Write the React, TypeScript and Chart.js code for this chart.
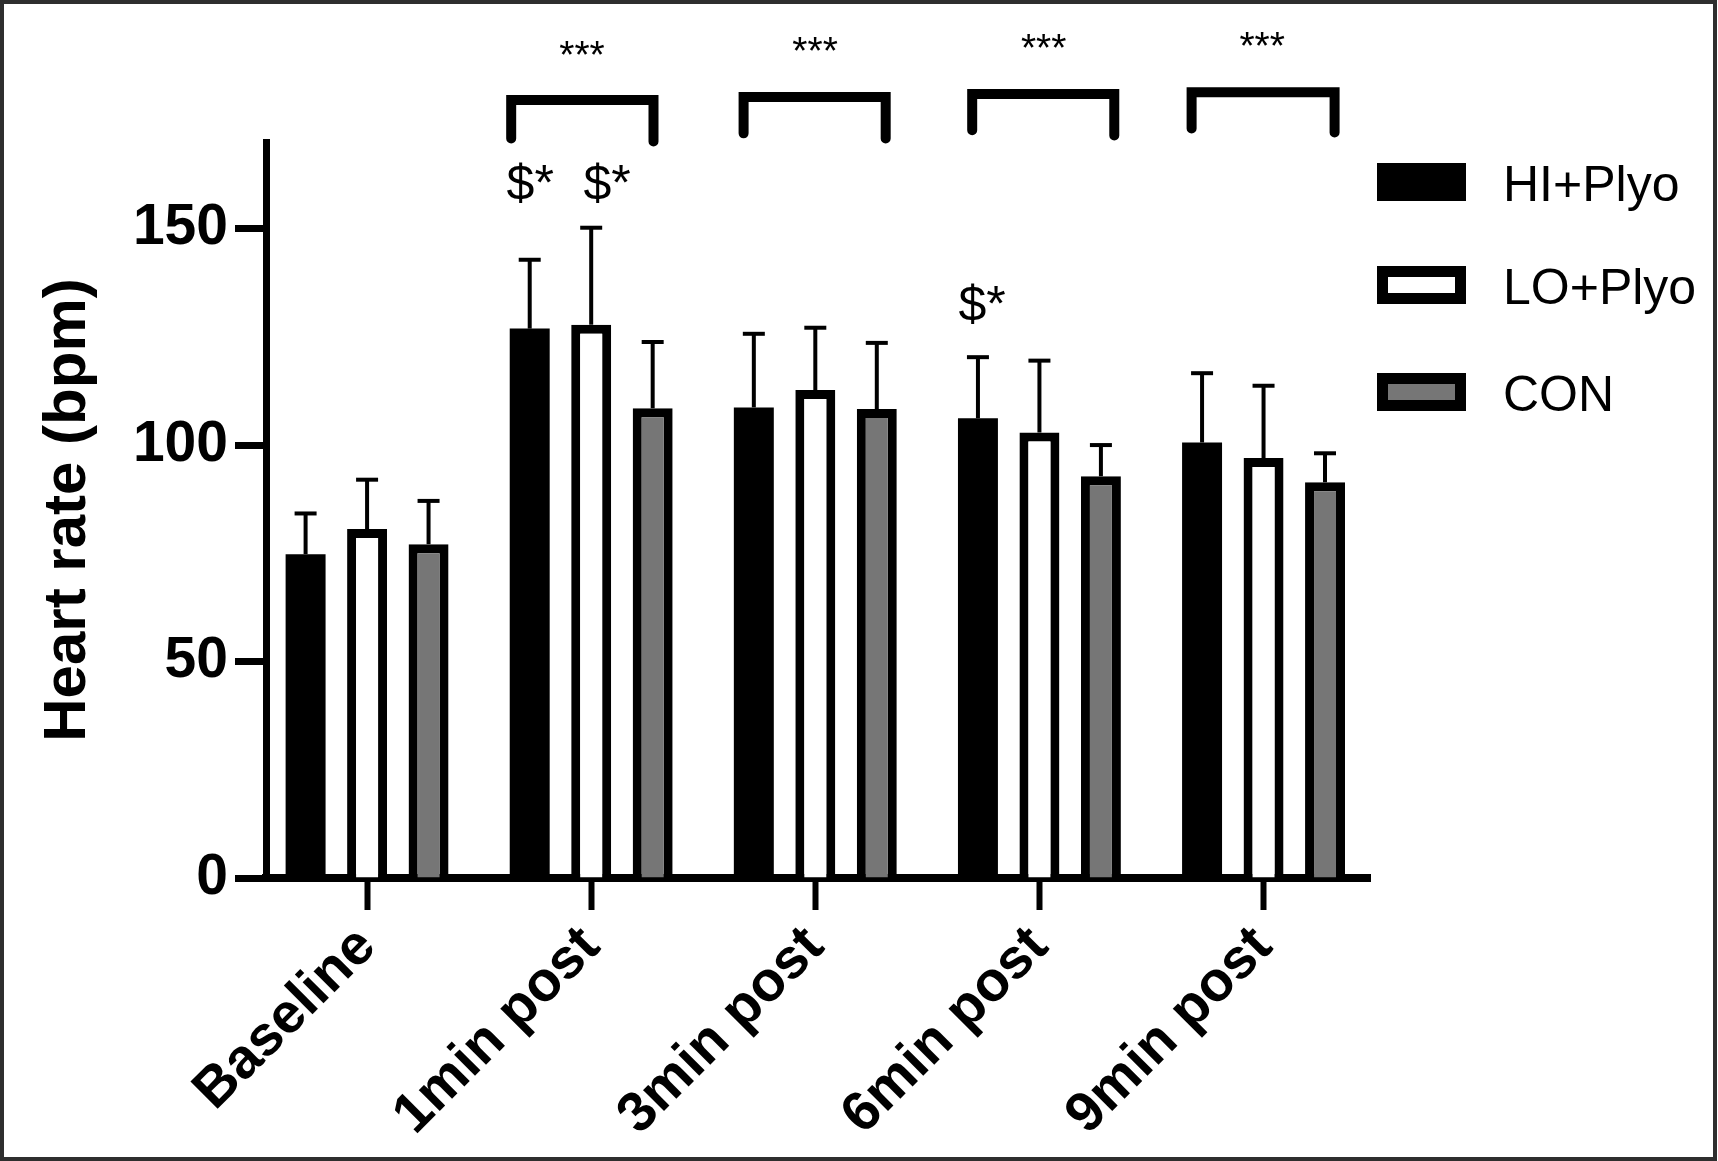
import React, { useEffect, useRef } from "react";
import { Chart, registerables } from "chart.js";

Chart.register(...registerables);

// ---------- data ----------
const categories = ["Baseline", "1min post", "3min post", "6min post", "9min post"];
const seriesNames = ["HI+Plyo", "LO+Plyo", "CON"];
const hiMean = [74.8, 126.9, 108.7, 106.2, 100.6];
const hiSD = [9.4, 15.9, 17.0, 14.1, 16.0];
const loMean = [80.6, 127.8, 112.7, 102.9, 97.0];
const loSD = [11.4, 22.4, 14.4, 16.6, 16.7];
const conMean = [77.1, 108.5, 108.3, 92.8, 91.4];
const conSD = [10.0, 15.3, 15.3, 7.2, 6.7];
const yTickValues = [0, 50, 100, 150];
const yTitle = "Heart rate (bpm)";

// significance brackets (in axis units)
const bracketFrom = [0.643, 1.68, 2.7, 3.679];
const bracketTo = [1.278, 2.314, 3.334, 4.317];
const bracketTop = [179.7, 180.4, 181.1, 181.5];
const bracketLeftEnd = [170.8, 172.0, 172.7, 173.1];
const bracketRightEnd = [170.1, 170.8, 171.5, 172.2];
const bracketLabel = "***";
const bracketLabelX = [0.959, 1.999, 3.019, 3.994];
const bracketLabelY = [189.6, 190.5, 191.1, 191.6];

// "$*" markers (in axis units)
const markerLabel = "$*";
const markerX = [0.728, 1.071, 2.744];
const markerY = [156.7, 156.7, 128.7];

const FONT = "'Liberation Sans', Arial, Helvetica, sans-serif";
const means = [hiMean, loMean, conMean];
const sds = [hiSD, loSD, conSD];
const fills = ["#000000", "#ffffff", "#767676"];
const borders = [0, 9, 9];

const overlayPlugin = {
  id: "overlay",
  beforeDraw(chart: any) {
    const ctx = chart.ctx;
    ctx.save();
    ctx.fillStyle = "#ffffff";
    ctx.fillRect(0, 0, chart.width, chart.height);
    ctx.restore();
  },
  afterDatasetsDraw(chart: any) {
    const ctx = chart.ctx;
    const x = chart.scales.x;
    const y = chart.scales.y;
    ctx.save();
    // error bars (upper only)
    ctx.strokeStyle = "#000";
    ctx.lineWidth = 4;
    ctx.lineCap = "butt";
    chart.data.datasets.forEach((_ds: any, di: number) => {
      const meta = chart.getDatasetMeta(di);
      meta.data.forEach((bar: any, i: number) => {
        const xc = bar.x;
        const top = y.getPixelForValue(means[di][i]);
        const cap = y.getPixelForValue(means[di][i] + sds[di][i]);
        ctx.beginPath();
        ctx.moveTo(xc, top);
        ctx.lineTo(xc, cap);
        ctx.stroke();
        ctx.beginPath();
        ctx.moveTo(xc - 11, cap);
        ctx.lineTo(xc + 11, cap);
        ctx.stroke();
      });
    });
    // brackets
    ctx.lineWidth = 10;
    ctx.lineJoin = "miter";
    ctx.lineCap = "round";
    bracketFrom.forEach((f, i) => {
      const xl = x.getPixelForValue(f);
      const xr = x.getPixelForValue(bracketTo[i]);
      const yt = y.getPixelForValue(bracketTop[i]);
      ctx.beginPath();
      ctx.moveTo(xl, y.getPixelForValue(bracketLeftEnd[i]));
      ctx.lineTo(xl, yt);
      ctx.lineTo(xr, yt);
      ctx.lineTo(xr, y.getPixelForValue(bracketRightEnd[i]));
      ctx.stroke();
    });
    ctx.fillStyle = "#000";
    ctx.textAlign = "center";
    ctx.textBaseline = "middle";
    ctx.font = `39px ${FONT}`;
    bracketLabelX.forEach((bx, i) => {
      ctx.fillText(bracketLabel, x.getPixelForValue(bx), y.getPixelForValue(bracketLabelY[i]));
    });
    ctx.textBaseline = "alphabetic";
    ctx.font = `50px ${FONT}`;
    markerX.forEach((mx, i) => {
      ctx.fillText(markerLabel, x.getPixelForValue(mx), y.getPixelForValue(markerY[i]));
    });
    ctx.restore();
  },
  afterDraw(chart: any) {
    const ctx = chart.ctx;
    ctx.save();
    // legend
    const lx = 1377;
    const tops = [163, 266, 373];
    seriesNames.forEach((name, i) => {
      const t = tops[i];
      ctx.fillStyle = "#000";
      ctx.fillRect(lx, t, 89, 38);
      ctx.fillStyle = fills[i];
      ctx.fillRect(lx + 11, t + 11, 67, 16);
      ctx.fillStyle = "#000";
      ctx.font = `50px ${FONT}`;
      ctx.textAlign = "left";
      ctx.textBaseline = "alphabetic";
      ctx.fillText(name, 1503, t + 37.5);
    });
    // frame
    ctx.strokeStyle = "#2e2e2e";
    ctx.lineWidth = 4;
    ctx.strokeRect(2, 2, 1713, 1157);
    ctx.restore();
  },
};

export default function App() {
  const canvasRef = useRef<HTMLCanvasElement | null>(null);

  useEffect(() => {
    const canvas = canvasRef.current;
    if (!canvas) return;
    const datasets = seriesNames.map((name, di) => ({
      label: name,
      data: means[di].map((v, i) => ({ x: i, y: v })),
      backgroundColor: fills[di],
      borderColor: "#000",
      borderWidth: borders[di],
      borderSkipped: "start" as const,
      categoryPercentage: 0.823,
      barPercentage: 0.65,
    }));
    const chart = new Chart(canvas, {
      type: "bar",
      data: { datasets },
      plugins: [overlayPlugin],
      options: {
        animation: false,
        responsive: false,
        maintainAspectRatio: false,
        devicePixelRatio: 1,
        layout: { padding: { left: 0, top: 142, right: 348, bottom: 0 } },
        plugins: {
          legend: { display: false },
          tooltip: { enabled: false },
        },
        scales: {
          x: {
            type: "linear",
            min: -0.451,
            max: 4.475,
            offset: false,
            afterBuildTicks: (axis: any) => {
              axis.ticks = categories.map((_c, i) => ({ value: i }));
            },
            afterFit: (axis: any) => {
              axis.height = 283;
            },
            grid: {
              display: true,
              offset: false,
              drawOnChartArea: false,
              drawTicks: true,
              tickLength: 32,
              tickWidth: 6,
              tickColor: "#000",
              color: "#000",
            },
            border: { display: true, color: "#000", width: 8 },
            ticks: {
              autoSkip: false,
              minRotation: 45,
              maxRotation: 45,
              padding: 4,
              color: "#000",
              font: { family: FONT, size: 56, weight: "bold" },
              callback: (v: any) => categories[Math.round(Number(v))] ?? "",
            },
          },
          y: {
            type: "linear",
            min: 0,
            max: 170,
            afterBuildTicks: (axis: any) => {
              axis.ticks = yTickValues.map((v) => ({ value: v }));
            },
            afterFit: (axis: any) => {
              axis.width = 266;
            },
            grid: {
              display: true,
              drawOnChartArea: false,
              drawTicks: true,
              tickLength: 31,
              tickWidth: 7,
              tickColor: "#000",
              color: "#000",
            },
            border: { display: true, color: "#000", width: 7 },
            ticks: {
              padding: 7,
              color: "#000",
              font: { family: FONT, size: 57, weight: "bold" },
            },
            title: {
              display: true,
              text: yTitle,
              color: "#000",
              font: { family: FONT, size: 60, weight: "bold" },
              padding: { top: 32, bottom: 0 },
            },
          },
        },
      },
    });
    return () => chart.destroy();
  }, []);

  return (
    <div style={{ position: "absolute", left: 0, top: 0, width: 1718, height: 1161, background: "#fff" }}>
      <canvas ref={canvasRef} width={1718} height={1161} style={{ display: "block" }} />
    </div>
  );
}
